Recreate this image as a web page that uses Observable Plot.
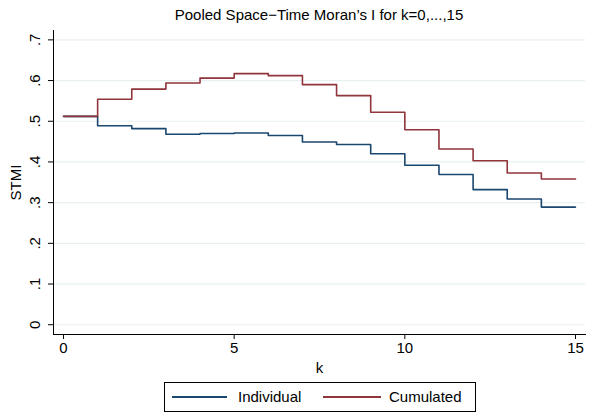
<!DOCTYPE html>
<html>
<head>
<meta charset="utf-8">
<script src="https://cdn.jsdelivr.net/npm/d3@7"></script>
<script src="https://cdn.jsdelivr.net/npm/@observablehq/plot@0.6"></script>
<style>
  body { margin: 0; background: #fff; font-family: "Liberation Sans", Arial, sans-serif; }
  #wrap { position: relative; width: 589px; height: 415px; overflow: hidden; }
  #title { position: absolute; left: 53px; width: 532px; top: 6px; text-align: center; font-size: 15px; color: #000; }
  #chart { position: absolute; left: 0; top: 30px; }
  #legend { position: absolute; left: 164px; top: 382px; width: 310px; height: 28px; border: 1px solid #000;
            font-size: 15px; color: #000; }
  .sw { position: absolute; top: 13px; height: 2px; }
  .lt { position: absolute; top: 5px; line-height: 17px; white-space: nowrap; }
</style>
</head>
<body>
<div id="wrap">
  <div id="title">Pooled Space−Time Moran’s I for k=0,...,15</div>
  <div id="chart"></div>
  <div id="legend"></div>
</div>
<script>
const k = [0, 1, 2, 3, 4, 5, 6, 7, 8, 9, 10, 11, 12, 13, 14];
const individual = [0.512, 0.489, 0.482, 0.468, 0.470, 0.471, 0.465, 0.449, 0.443, 0.420, 0.392, 0.369, 0.332, 0.309, 0.289];
const cumulated  = [0.512, 0.554, 0.579, 0.594, 0.606, 0.617, 0.612, 0.590, 0.563, 0.522, 0.479, 0.432, 0.403, 0.373, 0.358];
const seriesNames = ["Individual", "Cumulated"];
const seriesColors = ["#1a476f", "#90353b"];
const yTicks = [0, 0.1, 0.2, 0.3, 0.4, 0.5, 0.6, 0.7];
const xTicks = [0, 5, 10, 15];
const yTitle = "STMI";
const xTitle = "k";

// step shape: each value held from k to k+1
function steps(vals, name) {
  const pts = [];
  k.forEach((kk, i) => { pts.push({k: kk, v: vals[i], s: name}); pts.push({k: kk + 1, v: vals[i], s: name}); });
  return pts;
}
const data = [...steps(individual, seriesNames[0]), ...steps(cumulated, seriesNames[1])];
const fmtY = d => d === 0 ? "0" : d3.format(".1f")(d).replace(/^0/, "");

const chart = Plot.plot({
  width: 589,
  height: 350,
  marginLeft: 53,
  marginRight: 4,
  marginTop: 0,
  marginBottom: 46,
  style: { fontFamily: "Liberation Sans, Arial, sans-serif", fontSize: "15px", background: "transparent" },
  x: { domain: [-0.293, 15.293] },
  y: { domain: [-0.024, 0.723] },
  color: { domain: seriesNames, range: seriesColors },
  marks: [
    Plot.gridY(yTicks, { stroke: "#e8f0f2", strokeOpacity: 1, strokeWidth: 1.2 }),
    Plot.frame({ anchor: "left", stroke: "#000" }),
    Plot.frame({ anchor: "bottom", stroke: "#000" }),
    Plot.axisY({ ticks: yTicks, tickSize: 5, tickFormat: () => "", label: null }),
    Plot.text(yTicks, { y: d => d, text: fmtY, frameAnchor: "left", dx: -18, rotate: -90, textAnchor: "middle", fontSize: 15 }),
    Plot.text([yTitle], { text: d => d, frameAnchor: "left", dx: -37, rotate: -90, textAnchor: "middle", fontSize: 15 }),
    Plot.axisX({ ticks: xTicks, tickSize: 5, tickPadding: 3, label: null, fontSize: 15 }),
    Plot.text([xTitle], { text: d => d, frameAnchor: "bottom", dy: 34, lineAnchor: "middle", fontSize: 15 }),
    Plot.line(data, { x: "k", y: "v", z: "s", stroke: "s", strokeWidth: 1.6 })
  ]
});
document.getElementById("chart").appendChild(chart);

const legend = document.getElementById("legend");
const swX = [7, 158], swW = [55, 58], txX = [73, 224];
seriesNames.forEach((n, i) => {
  const sw = document.createElement("div");
  sw.className = "sw";
  sw.style.left = swX[i] + "px";
  sw.style.width = swW[i] + "px";
  sw.style.background = seriesColors[i];
  legend.appendChild(sw);
  const t = document.createElement("span");
  t.className = "lt";
  t.style.left = txX[i] + "px";
  t.textContent = n;
  legend.appendChild(t);
});
</script>
</body>
</html>
